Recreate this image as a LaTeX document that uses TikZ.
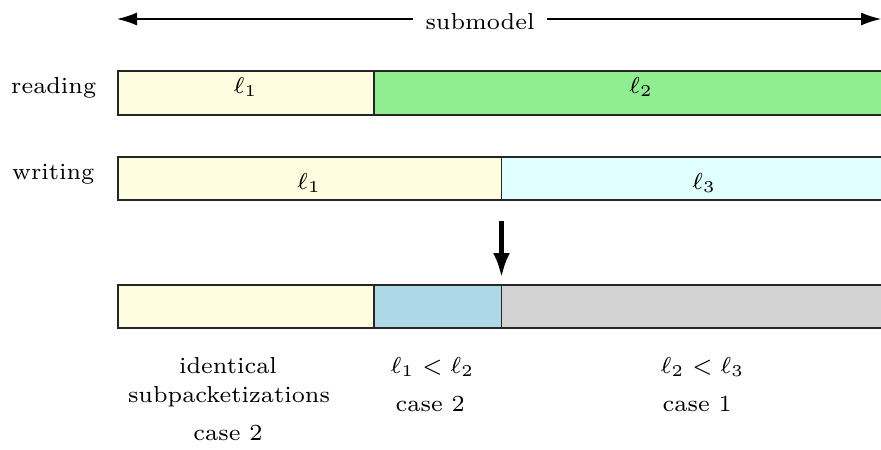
\documentclass[tikz,border=0pt]{standalone}
\usetikzlibrary{arrows.meta}
\definecolor{lyellow}{RGB}{255,253,224}
\definecolor{lgreen}{RGB}{144,238,144}
\definecolor{lcyan}{RGB}{224,255,255}
\definecolor{lblue}{RGB}{173,216,230}
\definecolor{lgray}{RGB}{211,211,211}
\begin{document}
\begin{tikzpicture}[x=0.3846pt,y=-0.3846pt,
  seg/.style={draw=black!85, line width=0.4pt},
  lbl/.style={inner sep=0pt, anchor=base, font=\fontsize{7}{8.4}\selectfont, scale=1.27, transform shape},
  lblw/.style={lbl, anchor=base west},
  toparrow/.style={line width=0.5pt, -{Latex[length=7.7pt,width=5pt]}},
  downarrow/.style={line width=2pt, -{Latex[length=9.6pt,width=6.5pt]}}]
\useasboundingbox (0,0) rectangle (881,449);
\clip (0,0) rectangle (881,449);
% top arrow
\coordinate (al) at (117,19);
\coordinate (ar) at (881,19);
\node[lbl, inner xsep=3.6pt] (sub) at (480,29) {submodel};
\draw[toparrow] (sub.west |- al) -- (al);
\draw[toparrow] (sub.east |- ar) -- (ar);
% reading
\node[lbl] (rd) at (53.7,93) {reading};
\path[seg, fill=lyellow] (118,71) rectangle (374,115);
\path[seg, fill=lgreen] (374,71) rectangle (910,115);
\node[lbl] (r1) at (245.5,93) {$\ell_1$};
\node[lbl] (r2) at (641,93) {$\ell_2$};
% writing
\node[lbl] (wr) at (53.3,179.3) {writing};
\path[seg, fill=lyellow] (118,157) rectangle (501.5,200);
\path[seg, fill=lcyan] (501.5,157) rectangle (910,200);
\node[lbl] (w1) at (309,189) {$\ell_1$};
\node[lbl] (w3) at (704,189) {$\ell_3$};
% arrow down
\coordinate (dtop) at (501.5,221);
\coordinate (dtip) at (501.5,278);
\draw[downarrow] (dtop) -- (dtip);
% result
\path[seg, fill=lyellow] (118,285) rectangle (374,328);
\path[seg, fill=lblue] (374,285) rectangle (501.5,328);
\path[seg, fill=lgray] (501.5,285) rectangle (910,328);
% bottom labels
\node[lbl] (t1) at (228,373) {identical};
\node[lbl] (t2) at (229,402) {subpacketizations};
\node[lbl] (t3) at (228,440) {case 2};
\node[lblw] (m1) at (390,373) {$\ell_1<\ell_2$};
\node[lblw] (m2) at (395,411.7) {case 2};
\node[lblw] (q1) at (660,373.3) {$\ell_2<\ell_3$};
\node[lblw] (q2) at (662,411.7) {case 1};
\end{tikzpicture}
\end{document}
